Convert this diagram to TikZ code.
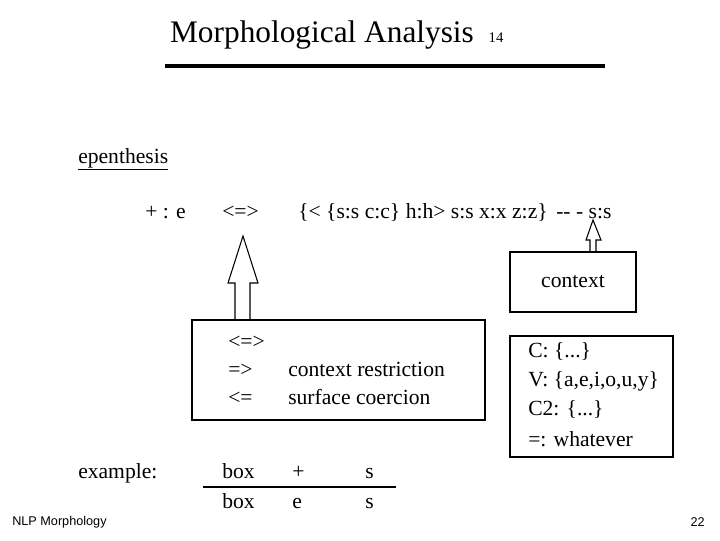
\documentclass[tikz,border=0pt]{standalone}
\usepackage{fontspec}
\setmainfont{Liberation Serif}
\newfontfamily\arialf{Liberation Sans}
\begin{document}
\begin{tikzpicture}[x=0.75pt,y=-0.75pt,
  txt/.style={anchor=west,inner sep=0,text height=11pt,text depth=3.5pt,font=\fontsize{16.2}{19}\selectfont},
  bx/.style={draw,line width=0.8pt},
  hollow/.style={draw,line width=0.8pt,fill=white}]
\useasboundingbox (0,0) rectangle (720,540);
\node[inner sep=0,text height=15pt,text depth=4.5pt,font=\fontsize{23.5}{26}\selectfont] (title) at (322,35) {Morphological Analysis};
\node[inner sep=0,font=\fontsize{11}{13}\selectfont] (pg) at (496,38) {14};
\coordinate (l1) at (165,66); \coordinate (l2) at (605,66);
\draw[line width=2.5pt] (l1) -- (l2);
\node[txt] (ep) at (78,158) {\underline{epenthesis}};
\node[txt] (pe) at (145,213) {+ : e};
\node[txt] (eq) at (222,213) {<=>};
\node[txt] (rule) at (298,213) {\{< \{s:s c:c\} h:h> s:s x:x z:z\}};
\node[txt] (ss) at (556,213) {-{}- -{}  s:s};
% big arrow
\draw[hollow] (235,320) -- (235,283) -- (228,283) -- (243,236) -- (258,283) -- (250,283) -- (250,320);
% small arrow
\draw[hollow] (590,252) -- (590,240) -- (586,240) -- (593,220) -- (601,240) -- (596,240) -- (596,252);
\node[bx,minimum width=126*0.75pt,minimum height=60*0.75pt,font=\fontsize{16.2}{19}\selectfont] (ctx) at (573,282) {context};
\draw[bx] (192,320) rectangle (485,420);
\node[txt] (a1) at (228,343) {<=>};
\node[txt] (a2) at (228,371) {=>};
\node[txt] (a3) at (228,399) {<=};
\node[txt] (b2) at (288,371) {context restriction};
\node[txt] (b3) at (288,399) {surface coercion};
\draw[bx] (510,336) rectangle (673,457);
\node[txt] (c1) at (528,352) {C: \{...\}};
\node[txt] (c2) at (528,381) {V: \{a,e,i,o,u,y\}};
\node[txt] (c3) at (528,410) {C2: \{...\}};
\node[txt] (c4) at (528,441) {=: whatever};
\node[txt] (ex) at (78,473) {example:};
\node[txt] (r1) at (222,473) {box};
\node[txt] (r2) at (292,473) {+};
\node[txt] (r3) at (365,473) {s};
\coordinate (u1) at (203,487); \coordinate (u2) at (396,487);
\draw[line width=0.8pt] (u1) -- (u2);
\node[txt] (s1) at (222,503) {box};
\node[txt] (s2) at (292,503) {e};
\node[txt] (s3) at (365,503) {s};
\node[anchor=west,inner sep=0,font=\arialf\fontsize{9.5}{11}\selectfont] (ft) at (12,522) {NLP Morphology};
\node[anchor=east,inner sep=0,font=\arialf\fontsize{9.5}{11}\selectfont] (nr) at (705,522) {22};
\end{tikzpicture}
\end{document}
